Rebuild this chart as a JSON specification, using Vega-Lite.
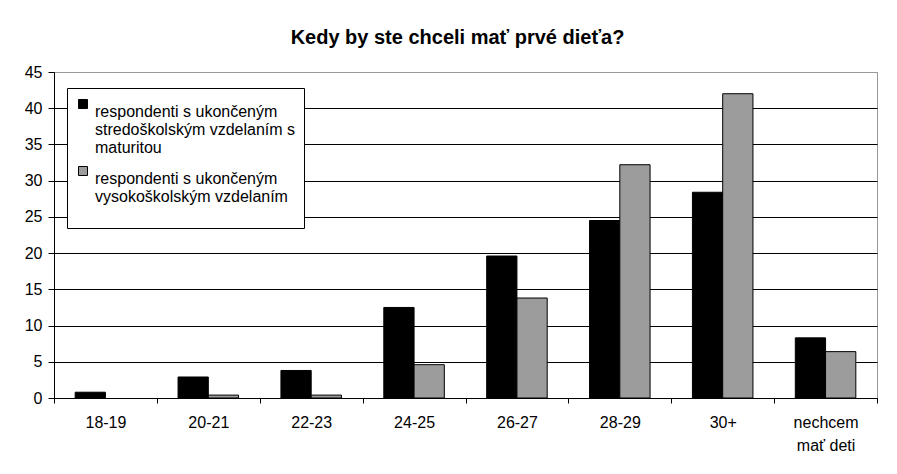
{
  "$schema": "https://vega.github.io/schema/vega-lite/v6.json",
  "autosize": "none",
  "width": 823,
  "height": 326,
  "padding": {"left": 54, "top": 72, "right": 20, "bottom": 76},
  "background": "white",
  "title": {
    "text": "Kedy by ste chceli mať prvé dieťa?",
    "font": "Liberation Sans",
    "fontSize": 20,
    "fontWeight": "bold",
    "color": "black",
    "anchor": "middle",
    "offset": 16,
    "dx": -8
  },
  "data": {
    "values": [
      {"vek": "18-19", "skupina": "respondenti s ukončeným stredoškolským vzdelaním s maturitou", "podiel": 0.8},
      {"vek": "18-19", "skupina": "respondenti s ukončeným vysokoškolským vzdelaním", "podiel": 0},
      {"vek": "20-21", "skupina": "respondenti s ukončeným stredoškolským vzdelaním s maturitou", "podiel": 2.9},
      {"vek": "20-21", "skupina": "respondenti s ukončeným vysokoškolským vzdelaním", "podiel": 0.4},
      {"vek": "22-23", "skupina": "respondenti s ukončeným stredoškolským vzdelaním s maturitou", "podiel": 3.8},
      {"vek": "22-23", "skupina": "respondenti s ukončeným vysokoškolským vzdelaním", "podiel": 0.4},
      {"vek": "24-25", "skupina": "respondenti s ukončeným stredoškolským vzdelaním s maturitou", "podiel": 12.5},
      {"vek": "24-25", "skupina": "respondenti s ukončeným vysokoškolským vzdelaním", "podiel": 4.6},
      {"vek": "26-27", "skupina": "respondenti s ukončeným stredoškolským vzdelaním s maturitou", "podiel": 19.6},
      {"vek": "26-27", "skupina": "respondenti s ukončeným vysokoškolským vzdelaním", "podiel": 13.8},
      {"vek": "28-29", "skupina": "respondenti s ukončeným stredoškolským vzdelaním s maturitou", "podiel": 24.5},
      {"vek": "28-29", "skupina": "respondenti s ukončeným vysokoškolským vzdelaním", "podiel": 32.2},
      {"vek": "30+", "skupina": "respondenti s ukončeným stredoškolským vzdelaním s maturitou", "podiel": 28.4},
      {"vek": "30+", "skupina": "respondenti s ukončeným vysokoškolským vzdelaním", "podiel": 42.0},
      {"vek": "nechcem mať deti", "skupina": "respondenti s ukončeným stredoškolským vzdelaním s maturitou", "podiel": 8.3},
      {"vek": "nechcem mať deti", "skupina": "respondenti s ukončeným vysokoškolským vzdelaním", "podiel": 6.4}
    ]
  },
  "mark": {"type": "bar", "stroke": "black", "strokeWidth": 1},
  "encoding": {
    "x": {
      "field": "vek",
      "type": "nominal",
      "sort": ["18-19", "20-21", "22-23", "24-25", "26-27", "28-29", "30+", "nechcem mať deti"],
      "scale": {"paddingInner": 0, "paddingOuter": 0},
      "axis": {
        "title": null,
        "labelAngle": 0,
        "labelFont": "Liberation Sans",
        "labelFontSize": 16,
        "labelColor": "black",
        "labelPadding": 11,
        "labelLineHeight": 23,
        "labelExpr": "datum.value == 'nechcem mať deti' ? ['nechcem', 'mať deti'] : datum.value",
        "domainColor": "black",
        "tickColor": "black",
        "tickSize": 5,
        "tickBand": "extent",
        "grid": false
      }
    },
    "xOffset": {
      "field": "skupina",
      "type": "nominal",
      "sort": ["respondenti s ukončeným stredoškolským vzdelaním s maturitou", "respondenti s ukončeným vysokoškolským vzdelaním"],
      "scale": {"paddingInner": 0, "paddingOuter": 0.7}
    },
    "y": {
      "field": "podiel",
      "type": "quantitative",
      "scale": {"domain": [0, 45], "nice": false},
      "axis": {
        "title": null,
        "values": [0, 5, 10, 15, 20, 25, 30, 35, 40, 45],
        "labelFont": "Liberation Sans",
        "labelFontSize": 16,
        "labelColor": "black",
        "labelPadding": 6,
        "domainColor": "black",
        "tickColor": "black",
        "tickSize": 6,
        "grid": true,
        "gridColor": {"condition": {"test": "datum.value === 45", "value": "#999999"}, "value": "black"},
        "gridOpacity": 1
      }
    },
    "strokeOpacity": {
      "condition": {"test": "datum.podiel > 0", "value": 1},
      "value": 0
    },
    "color": {
      "field": "skupina",
      "type": "nominal",
      "sort": ["respondenti s ukončeným stredoškolským vzdelaním s maturitou", "respondenti s ukončeným vysokoškolským vzdelaním"],
      "scale": {"range": ["#000000", "#9c9c9c"]},
      "legend": {
        "orient": "none",
        "legendX": 13,
        "legendY": 16,
        "title": " ",
        "titleOrient": "bottom",
        "titleFontSize": 12,
        "titlePadding": 4,
        "labelExpr": "indexof(datum.label, 'stredo') >= 0 ? ['respondenti s ukončeným', 'stredoškolským vzdelaním s', 'maturitou'] : ['respondenti s ukončeným', 'vysokoškolským vzdelaním']",
        "labelFont": "Liberation Sans",
        "labelFontSize": 16,
        "labelColor": "black",
        "labelLineHeight": 21,
        "labelLimit": 400,
        "labelBaseline": "top",
        "labelOffset": 4,
        "symbolType": "square",
        "symbolSize": 81,
        "symbolStrokeColor": "black",
        "symbolStrokeWidth": 1,
        "symbolOpacity": 1,
        "fillColor": "white",
        "strokeColor": "black",
        "padding": 8,
        "rowPadding": 7
      }
    }
  },
  "config": {
    "view": {"stroke": "#999999", "strokeWidth": 1}
  }
}
